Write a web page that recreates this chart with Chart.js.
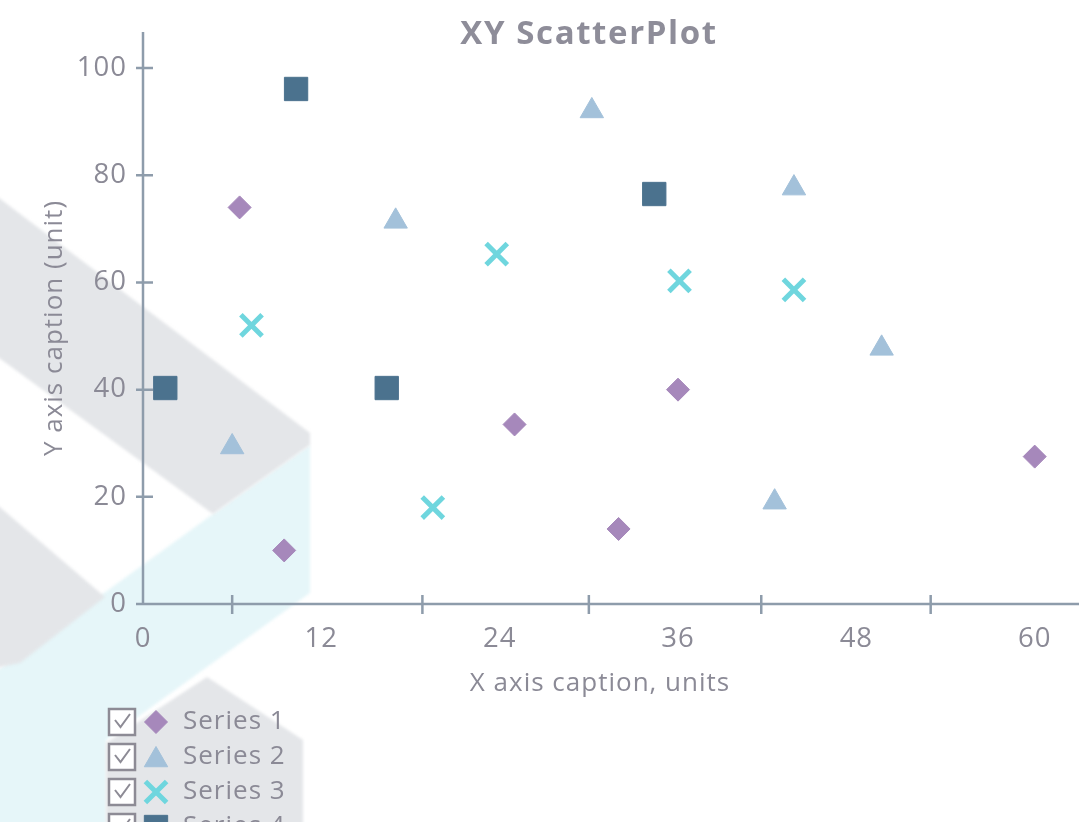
<!DOCTYPE html>
<html>
<head>
<meta charset="utf-8">
<title>XY ScatterPlot</title>
<script src="https://cdn.jsdelivr.net/npm/chart.js@4.4.1/dist/chart.umd.min.js"></script>
<style>
  html, body { margin: 0; padding: 0; background: #ffffff; overflow: hidden; width: 1079px; height: 822px; }
  #wrap { position: absolute; left: 0; top: 0; width: 1178px; height: 860px; }
  canvas { display: block; }
</style>
</head>
<body>
<div id="wrap"><canvas id="chart" width="1178" height="860"></canvas></div>
<script>
// ---- data ----
const chartTitle = 'XY ScatterPlot';
const seriesNames = ['Series 1', 'Series 2', 'Series 3', 'Series 4'];
const series1 = [[6.5, 74], [9.5, 10], [25, 33.5], [32, 14], [36, 40], [60, 27.5]];
const series2 = [[6, 29.3], [17, 71.4], [30.2, 92], [42.5, 19], [43.8, 77.6], [49.7, 47.7]];
const series3 = [[7.3, 52], [19.5, 18], [23.8, 65.3], [36.1, 60.3], [43.8, 58.6]];
const series4 = [[1.5, 40.3], [10.3, 96.1], [16.4, 40.3], [34.4, 76.5]];
const xTickValues = [0, 12, 24, 36, 48, 60];
const xMinorTicks = [6, 18.8, 30, 41.6, 53];
const yTickValues = [0, 20, 40, 60, 80, 100];

// ---- styles ----
const FONT = "'Segoe UI', 'Open Sans', 'Noto Sans', sans-serif";
const TEXT = '#8b8a96';
const AXIS = '#8e9cab';
const seriesColors = ['#a688bb', '#a3c1da', '#6fd6de', '#4b728e'];

const toPoints = arr => arr.map(p => ({ x: p[0], y: p[1] }));

// soft logo shapes behind the plot, plus the text spacing used everywhere
const backdrop = {
  id: 'backdrop',
  beforeDraw(chart) {
    const ctx = chart.ctx;
    ctx.save();
    ctx.fillStyle = '#ffffff';
    ctx.fillRect(0, 0, chart.width, chart.height);
    ctx.filter = 'blur(1.5px)';
    const poly = (pts, color) => {
      ctx.beginPath();
      ctx.moveTo(pts[0][0], pts[0][1]);
      for (let i = 1; i < pts.length; i++) ctx.lineTo(pts[i][0], pts[i][1]);
      ctx.closePath();
      ctx.fillStyle = color;
      ctx.fill();
    };
    poly([[213, 514], [310, 445], [310, 593], [200, 672], [106, 740], [106, 870], [-5, 870], [-5, 672]], '#e6f6f9');
    poly([[-5, 195], [310, 433], [310, 445], [213, 514], [-5, 355]], '#e4e6e9');
    poly([[-5, 503], [105, 597], [20, 663], [-5, 668]], '#e4e6e9');
    poly([[207, 677], [303, 740], [303, 870], [106, 870], [106, 743]], '#e4e6e9');
    ctx.restore();
    if ('letterSpacing' in ctx) ctx.letterSpacing = '1px';
  }
};

// axis lines with tick marks crossing them
const axes = {
  id: 'axes',
  beforeDatasetsDraw(chart) {
    const ctx = chart.ctx;
    const xs = chart.scales.x, ys = chart.scales.y;
    const x0 = xs.left, y0 = ys.bottom;
    ctx.save();
    ctx.strokeStyle = AXIS;
    ctx.lineWidth = 2.5;
    ctx.beginPath();
    ctx.moveTo(x0, ys.top - 20);
    ctx.lineTo(x0, y0);
    ctx.moveTo(x0 - 1, y0);
    ctx.lineTo(xs.right + 22, y0);
    yTickValues.forEach(v => {
      const py = ys.getPixelForValue(v);
      ctx.moveTo(x0 - 7, py);
      ctx.lineTo(x0 + 10, py);
    });
    xMinorTicks.forEach(v => {
      const px = xs.getPixelForValue(v);
      ctx.moveTo(px, y0 - 9);
      ctx.lineTo(px, y0 + 10);
    });
    ctx.stroke();
    ctx.restore();
  }
};

// title centred on the full canvas, and the checkbox legend under the x axis
const decorations = {
  id: 'decorations',
  afterDraw(chart) {
    const ctx = chart.ctx;
    ctx.save();
    if ('letterSpacing' in ctx) ctx.letterSpacing = '1.6px';
    ctx.fillStyle = '#8e8d99';
    ctx.font = 'bold 33px ' + FONT;
    ctx.textAlign = 'center';
    ctx.textBaseline = 'alphabetic';
    ctx.fillText(chartTitle, chart.width / 2, 44);

    if ('letterSpacing' in ctx) ctx.letterSpacing = '1px';
    const top = chart.chartArea.bottom + 118;
    chart.data.datasets.forEach((ds, i) => {
      const cy = top + i * 35;
      ctx.fillStyle = '#ffffff';
      ctx.fillRect(109, cy - 13, 26, 26);
      ctx.strokeStyle = '#8d8b95';
      ctx.lineWidth = 2.5;
      ctx.strokeRect(109, cy - 13, 26, 26);
      ctx.lineWidth = 2;
      ctx.beginPath();
      ctx.moveTo(115, cy - 2);
      ctx.lineTo(120.5, cy + 5);
      ctx.lineTo(130, cy - 8);
      ctx.stroke();

      ctx.fillStyle = ds.backgroundColor;
      ctx.strokeStyle = ds.borderColor;
      ctx.lineWidth = ds.borderWidth;
      Chart.helpers.drawPoint(ctx, {
        pointStyle: ds.pointStyle,
        radius: ds.pointRadius,
        rotation: 0,
        borderWidth: ds.borderWidth
      }, 156, cy + (ds.pointStyle === 'triangle' ? 3 : 0));

      ctx.fillStyle = TEXT;
      ctx.font = '26px ' + FONT;
      ctx.textAlign = 'left';
      ctx.textBaseline = 'middle';
      ctx.fillText(ds.label, 183, cy);
    });
    ctx.restore();
  }
};

const datasets = [
  { label: seriesNames[0], data: toPoints(series1), pointStyle: 'rectRot', pointRadius: 11.5,
    backgroundColor: seriesColors[0], borderColor: seriesColors[0], borderWidth: 1 },
  { label: seriesNames[1], data: toPoints(series2), pointStyle: 'triangle', pointRadius: 13.5,
    backgroundColor: seriesColors[1], borderColor: seriesColors[1], borderWidth: 1 },
  { label: seriesNames[2], data: toPoints(series3), pointStyle: 'crossRot', pointRadius: 15,
    backgroundColor: seriesColors[2], borderColor: seriesColors[2], borderWidth: 5 },
  { label: seriesNames[3], data: toPoints(series4), pointStyle: 'rect', pointRadius: 16.5,
    backgroundColor: seriesColors[3], borderColor: seriesColors[3], borderWidth: 1 }
];
datasets.forEach(d => { d.pointHoverRadius = d.pointRadius; d.showLine = false; });

new Chart(document.getElementById('chart'), {
  type: 'scatter',
  data: { datasets },
  options: {
    responsive: false,
    devicePixelRatio: 1,
    animation: false,
    events: [],
    layout: { padding: { left: 0, right: 121, top: 52, bottom: 156 } },
    plugins: {
      legend: { display: false },
      tooltip: { enabled: false },
      title: { display: false }
    },
    scales: {
      x: {
        type: 'linear',
        min: 0,
        max: 61.5,
        afterBuildTicks: s => { s.ticks = xTickValues.map(v => ({ value: v })); },
        afterFit: s => { s.height = 100; },
        grid: { display: false, drawTicks: false },
        border: { display: false },
        ticks: { color: TEXT, font: { family: FONT, size: 27.5 }, padding: 19, maxRotation: 0, autoSkip: false },
        title: {
          display: true,
          text: 'X axis caption, units',
          color: TEXT,
          font: { family: FONT, size: 26, lineHeight: 1.2 },
          padding: { top: 0, bottom: 5 }
        }
      },
      y: {
        type: 'linear',
        min: 0,
        max: 103,
        afterBuildTicks: s => { s.ticks = yTickValues.map(v => ({ value: v })); },
        afterFit: s => { s.width = 143; },
        grid: { display: false, drawTicks: false },
        border: { display: false },
        ticks: { color: TEXT, font: { family: FONT, size: 27.5 }, padding: 16, autoSkip: false },
        title: {
          display: true,
          text: 'Y axis caption (unit)',
          color: TEXT,
          font: { family: FONT, size: 26, lineHeight: 1.2 },
          padding: { top: 39, bottom: 0 }
        }
      }
    }
  },
  plugins: [backdrop, axes, decorations]
});
</script>
</body>
</html>
